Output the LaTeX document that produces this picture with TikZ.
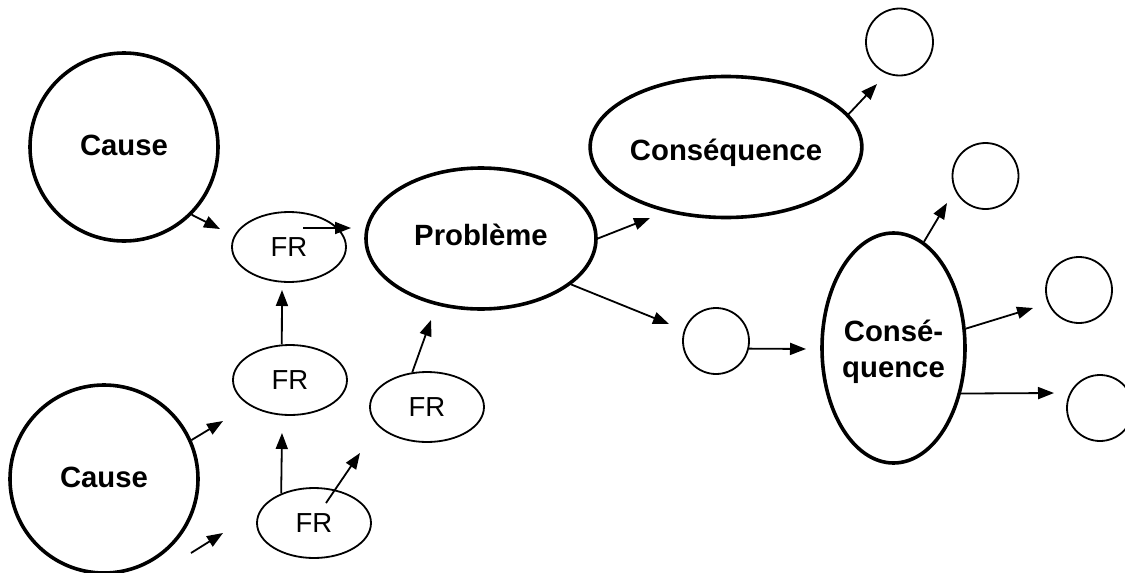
\documentclass[tikz,border=0pt]{standalone}
\usepackage{fontspec}
\setmainfont{Liberation Sans}
\usetikzlibrary{shapes.geometric,arrows.meta}
\begin{document}
\begin{tikzpicture}[x=1pt,y=-1pt,
  bigfont/.style={font=\fontsize{29.3}{36}\selectfont\bfseries},
  big/.style={draw,ellipse,line width=3.6pt,inner sep=0pt,bigfont,align=center},
  small/.style={draw,ellipse,line width=1.8pt,inner sep=0pt,minimum width=114pt,minimum height=70pt,font=\fontsize{27.5}{30}\selectfont},
  dot/.style={draw,circle,line width=1.8pt,inner sep=0pt,minimum size=66pt},
  arr/.style={line width=1.8pt,-{Triangle[length=16pt,width=12pt]}}]
\useasboundingbox (0,0) rectangle (1125,573);
% nodes
\node[big,circle,minimum size=188pt,text height=21pt,text depth=4pt] (c1) at (124,147) {Cause};
\node[big,circle,minimum size=188pt,text height=21pt,text depth=4pt] (c2) at (104,479) {Cause};
\node[small] (fr1) at (289,247) {FR};
\node[small] (fr2) at (290,380) {FR};
\node[small] (fr3) at (314,523) {FR};
\node[small] (fr4) at (427,407) {FR};
\node[big,minimum width=230pt,minimum height=141pt,text height=21pt,text depth=8pt] (pb) at (481,238.5) {Problème};
\node[big,minimum width=228pt,minimum height=141pt,text height=26pt,text depth=0pt] (cs1) at (726,147) {Conséquence};
\node[big,minimum width=143pt,minimum height=230pt] (cs2) at (893.5,348) {};
\node[bigfont,align=center,inner sep=0pt] (cs2t) at (893.5,351.5) {Consé-\\quence};
\node[dot] (m) at (716,341) {};
\node[dot,minimum size=67pt] (o1) at (899.5,42) {};
\node[dot] (o2) at (985.5,176) {};
\node[dot] (o3) at (1079,290) {};
\node[dot] (o4) at (1100,408) {};
% free ends
\coordinate (e1) at (220,229);
\coordinate (s2) at (303,228);
\coordinate (e2) at (351,228);
\coordinate (e3) at (282,290);
\coordinate (e4) at (282,433);
\coordinate (s5) at (326,503);
\coordinate (e5) at (360,453);
\coordinate (e6) at (431,320);
\coordinate (e7) at (223,421);
\coordinate (s8) at (191,553);
\coordinate (e8) at (223,533);
\coordinate (e9) at (650,218);
\coordinate (e10) at (669,324);
\coordinate (e11) at (806,349);
\coordinate (e12) at (877,84);
\coordinate (e13) at (947,203);
\coordinate (e14) at (1033,308);
\coordinate (e15) at (1054,393);
% connectors
\draw[arr] (c1.-45) -- (e1);
\draw[arr] (s2) -- (e2);
\draw[arr] (fr2.103) -- (e3);
\draw[arr] (fr3.138) -- (e4);
\draw[arr] (s5) -- (e5);
\draw[arr] (fr4.113) -- (e6);
\draw[arr] (c2.24) -- (e7);
\draw[arr] (s8) -- (e8);
\draw[arr] (pb.east) -- (e9);
\draw[arr] (pb.-27) -- (e10);
\draw[arr] (m.-13.6) -- (e11);
\draw[arr] (cs1.15.4) -- (e12);
\draw[arr] (cs2.74.8) -- (e13);
\draw[arr] (cs2.15.1) -- (e14);
\draw[arr] (cs2.-34) -- (e15);
\end{tikzpicture}
\end{document}
